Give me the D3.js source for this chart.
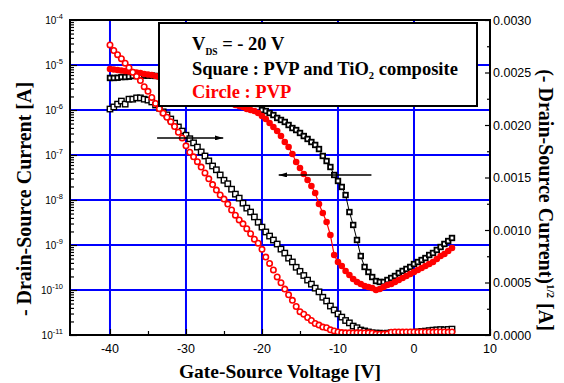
<!DOCTYPE html>
<html><head><meta charset="utf-8">
<script src="https://cdn.jsdelivr.net/npm/d3@7"></script>
<style>body{margin:0;background:#fff}svg{display:block}</style>
</head><body><svg id="c" width="564" height="383"></svg>
<script>
// ---------- data ----------
const gateVoltage = [-40,-39.5,-39,-38.5,-38,-37.5,-37,-36.5,-36,-35.5,-35,-34.5,-34,-33.5,-33,-32.5,-32,-31.5,-31,-30.5,
  -30,-29.5,-29,-28.5,-28,-27.5,-27,-26.5,-26,-25.5,-25,-24.5,-24,-23.5,-23,-22.5,-22,-21.5,-21,-20.5,
  -20,-19.5,-19,-18.5,-18,-17.5,-17,-16.5,-16,-15.5,-15,-14.5,-14,-13.5,-13,-12.5,-12,-11.5,-11,-10.5,
  -10,-9.5,-9,-8.5,-8,-7.5,-7,-6.5,-6,-5.5,-5,-4.5,-4,-3.5,-3,-2.5,-2,-1.5,-1,-0.5,
  0,0.5,1,1.5,2,2.5,3,3.5,4,4.5,5];

// Square : PVP and TiO2 composite, -I_DS (left log axis)
const squareLogCurrent = [1.05e-6,1.17e-6,1.35e-6,1.58e-6,1.35e-6,1.74e-6,1.74e-6,1.86e-6,1.86e-6,1.74e-6,
  1.66e-6,1.51e-6,1.29e-6,1.1e-6,9.1e-7,7.8e-7,6.3e-7,5.1e-7,4.2e-7,3.4e-7,
  2.75e-7,2.3e-7,1.86e-7,1.5e-7,1.17e-7,9.5e-8,7.4e-8,5.7e-8,4.7e-8,3.6e-8,
  2.75e-8,2.3e-8,1.74e-8,1.35e-8,1.1e-8,8.5e-9,6.6e-9,5.4e-9,4.2e-9,3.2e-9,
  2.5e-9,1.95e-9,1.58e-9,1.29e-9,1.05e-9,8.1e-10,6.6e-10,5.1e-10,4.2e-10,3.2e-10,
  2.6e-10,2.1e-10,1.66e-10,1.35e-10,1.1e-10,9.1e-11,6.9e-11,5.7e-11,4.4e-11,3.6e-11,
  2.95e-11,2.5e-11,2.1e-11,1.86e-11,1.58e-11,1.45e-11,1.29e-11,1.23e-11,1.17e-11,
  1.12e-11,1.1e-11,1.1e-11,1.08e-11,1.1e-11,1.12e-11,1.12e-11,1.1e-11,1.12e-11,1.14e-11,1.12e-11,
  1.15e-11,1.17e-11,1.2e-11,1.22e-11,1.25e-11,1.28e-11,1.3e-11,1.32e-11,1.3e-11,1.33e-11,1.35e-11];

// Circle : PVP, -I_DS (left log axis)
const circleLogCurrent = [2.8e-5,2.1e-5,1.7e-5,1.38e-5,1.1e-5,8.7e-6,6.9e-6,5.6e-6,4.5e-6,3.3e-6,
  2.6e-6,1.9e-6,1.4e-6,1.07e-6,8.5e-7,6.9e-7,5.5e-7,4.3e-7,3.2e-7,2.4e-7,
  1.6e-7,1.15e-7,9.1e-8,7.1e-8,5.4e-8,4.0e-8,2.95e-8,2.2e-8,1.66e-8,1.29e-8,
  1.05e-8,8.1e-9,6.0e-9,4.6e-9,3.6e-9,2.95e-9,2.3e-9,1.78e-9,1.35e-9,1.1e-9,
  8.0e-10,5.4e-10,3.9e-10,2.8e-10,1.95e-10,1.45e-10,1.05e-10,7.8e-11,5.9e-11,4.3e-11,
  3.3e-11,2.9e-11,2.45e-11,2.1e-11,1.8e-11,1.66e-11,1.5e-11,1.45e-11,1.3e-11,1.23e-11,
  1.17e-11,1.13e-11,1.12e-11,1.12e-11,1.11e-11,1.12e-11,1.12e-11,1.11e-11,1.12e-11,1.1e-11,
  1.05e-11,1.04e-11,1.05e-11,1.06e-11,1.15e-11,1.17e-11,1.17e-11,1.16e-11,1.17e-11,1.17e-11,
  1.17e-11,1.16e-11,1.17e-11,1.17e-11,1.17e-11,1.16e-11,1.17e-11,1.17e-11,1.17e-11,1.16e-11,1.17e-11];

// Square : (-I_DS)^1/2 (right linear axis)
const squareSqrtCurrent = [0.002448,0.002448,0.00245,0.002457,0.002457,0.00246,0.002467,0.002467,0.00247,0.00247,
  0.00247,0.00247,0.002467,0.002465,0.00246,0.00245,0.00244,0.00243,0.00242,0.00241,
  0.0024,0.00239,0.00238,0.00237,0.00236,0.00235,0.00234,0.00233,0.00232,0.00231,
  0.0023,0.00229,0.00228,0.00227,0.00226,0.00225,0.00224,0.00223,0.00222,0.00220,
  0.002143,0.002133,0.002114,0.002095,0.002067,0.002048,0.002029,0.002,0.001971,0.001952,
  0.001924,0.001895,0.001867,0.001838,0.00181,0.001771,0.001705,0.001657,0.0016,0.001524,
  0.001467,0.00141,0.001333,0.001171,0.001048,0.000905,0.000752,0.000648,0.0006,0.000552,
  0.000514,0.000505,0.000505,0.000524,0.000543,0.000562,0.00059,0.00061,0.000629,0.000648,
  0.000676,0.000695,0.000714,0.000733,0.000762,0.000781,0.00081,0.000838,0.000867,0.000895,0.000924];

// Circle : (-I_DS)^1/2 (right linear axis)
const circleSqrtCurrent = [0.002533,0.002529,0.002524,0.002519,0.002514,0.00251,0.002505,0.0025,0.002495,0.002486,
  0.002481,0.002476,0.002467,0.002457,0.00245,0.00244,0.00243,0.00242,0.00241,0.0024,
  0.00239,0.00238,0.00236,0.00235,0.00234,0.00232,0.00231,0.00229,0.00228,0.00226,
  0.00225,0.00223,0.00221,0.00219,0.00218,0.002171,0.002152,0.002143,0.002133,0.002114,
  0.002086,0.002057,0.002019,0.001981,0.001943,0.001895,0.001838,0.00179,0.001724,0.001648,
  0.00159,0.001533,0.001476,0.001419,0.001352,0.001248,0.001162,0.001076,0.000952,0.000762,
  0.000695,0.000657,0.00061,0.000571,0.000533,0.000505,0.000486,0.000467,0.000457,0.000448,
  0.000429,0.000438,0.000457,0.000476,0.000486,0.000505,0.000524,0.000543,0.000562,0.000581,
  0.0006,0.000619,0.000638,0.000657,0.000676,0.000695,0.000724,0.000752,0.000771,0.0008,0.000829];

// axes
const xTickValues = [-40,-30,-20,-10,0,10];
const xTickLabels = ["-40","-30","-20","-10","0","10"];
const xMinorTicks = [-35,-25,-15,-5,5];
const xGrid = [-40,-30,-20,-10,0];
const leftTickExponents = [-11,-10,-9,-8,-7,-6,-5,-4];
const leftGrid = [1e-10,1e-9,1e-8,1e-7,1e-6,1e-5];
const rightTickValues = [0,0.0005,0.001,0.0015,0.002,0.0025,0.003];
const rightTickLabels = ["0.0000","0.0005","0.0010","0.0015","0.0020","0.0025","0.0030"];
const rightMinorTicks = [0.00025,0.00075,0.00125,0.00175,0.00225,0.00275];

// sweep-direction arrows
const arrowForward = {fromV:-33.8, toV:-25.1, current:2.4e-7};     // left axis
const arrowReverse = {fromV:-5.6, toV:-17.8, sqrtCurrent:0.001524}; // right axis

// ---------- drawing ----------
const svg = d3.select("#c");
const L=70, R=490, T=20, B=335;
const x = d3.scaleLinear().domain([-45.26,10]).range([L,R]);
const yL = d3.scaleLog().domain([1e-11,1e-4]).range([B,T]);
const yR = d3.scaleLinear().domain([0,0.003]).range([B,T]);
const SANS = "'Liberation Sans', Arial, sans-serif";
const SERIF = "'Liberation Serif', 'Times New Roman', serif";

const defs = svg.append("defs");
defs.append("clipPath").attr("id","clip").append("rect").attr("x",L).attr("y",T).attr("width",R-L).attr("height",B-T);
defs.append("marker").attr("id","ah").attr("viewBox","0 0 10 6").attr("refX",10).attr("refY",3)
  .attr("markerWidth",9).attr("markerHeight",5).attr("markerUnits","userSpaceOnUse").attr("orient","auto")
  .append("path").attr("d","M0,0L10,3L0,6Z").attr("fill","#000");

// grid
svg.append("g").selectAll("line").data(xGrid).join("line")
  .attr("x1",d=>x(d)).attr("x2",d=>x(d)).attr("y1",T).attr("y2",B)
  .attr("stroke","#0000ff").attr("stroke-width",2);
svg.append("g").selectAll("line").data(leftGrid).join("line")
  .attr("x1",L).attr("x2",R).attr("y1",d=>yL(d)).attr("y2",d=>yL(d))
  .attr("stroke","#0000ff").attr("stroke-width",2);

// ticks
const minorLog = [];
leftTickExponents.slice(0,-1).forEach(e=>{ for(let m=2;m<=9;m++) minorLog.push(m*Math.pow(10,e)); });
const strip = g=>{g.select(".domain").remove(); g.selectAll(".tick line").attr("stroke","#000").attr("stroke-width",1.2);};
svg.append("g").attr("transform",`translate(${L},0)`)
  .call(d3.axisLeft(yL).tickValues(minorLog).tickSize(-4).tickFormat("")).call(strip);
svg.append("g").attr("transform",`translate(${L},0)`)
  .call(d3.axisLeft(yL).tickValues(leftTickExponents.map(e=>Math.pow(10,e))).tickSize(-7).tickFormat("")).call(strip);
svg.append("g").attr("transform",`translate(0,${B})`)
  .call(d3.axisBottom(x).tickValues(xTickValues).tickSize(-6).tickFormat("")).call(strip);
svg.append("g").attr("transform",`translate(0,${B})`)
  .call(d3.axisBottom(x).tickValues(xMinorTicks).tickSize(-4).tickFormat("")).call(strip);
svg.append("g").attr("transform",`translate(${R},0)`)
  .call(d3.axisRight(yR).tickValues(rightTickValues).tickSize(-5).tickFormat("")).call(strip);
svg.append("g").attr("transform",`translate(${R},0)`)
  .call(d3.axisRight(yR).tickValues(rightMinorTicks).tickSize(-3).tickFormat("")).call(strip);

// data
const pts = vals => gateVoltage.map((v,i)=>({v, c: vals[i]}));
const dg = svg.append("g").attr("clip-path","url(#clip)");

// black sqrt
dg.append("path").datum(pts(squareSqrtCurrent))
  .attr("d", d3.line().x(d=>x(d.v)).y(d=>yR(d.c)))
  .attr("fill","none").attr("stroke","#000").attr("stroke-width",1);
dg.append("g").selectAll("rect").data(pts(squareSqrtCurrent)).join("rect")
  .attr("x",d=>x(d.v)-2.3).attr("y",d=>yR(d.c)-2.3).attr("width",4.6).attr("height",4.6)
  .attr("fill","#fff").attr("stroke","#000").attr("stroke-width",1.8);

// black log
dg.append("g").selectAll("rect").data(pts(squareLogCurrent)).join("rect")
  .attr("x",d=>x(d.v)-2.7).attr("y",d=>yL(d.c)-2.7).attr("width",5.4).attr("height",5.4)
  .attr("fill","#fff").attr("stroke","#000").attr("stroke-width",1.4);

// red sqrt
dg.append("path").datum(pts(circleSqrtCurrent))
  .attr("d", d3.line().x(d=>x(d.v)).y(d=>yR(d.c)))
  .attr("fill","none").attr("stroke","#ff0000").attr("stroke-width",1.2);
dg.append("g").selectAll("circle").data(pts(circleSqrtCurrent)).join("circle")
  .attr("cx",d=>x(d.v)).attr("cy",d=>yR(d.c)).attr("r",3.3).attr("fill","#ff0000");

// red log
dg.append("g").selectAll("circle").data(pts(circleLogCurrent)).join("circle")
  .attr("cx",d=>x(d.v)).attr("cy",d=>yL(d.c)).attr("r",2.7)
  .attr("fill","#fff").attr("stroke","#ff0000").attr("stroke-width",1.6);

// arrows
svg.append("line").attr("x1",x(arrowForward.fromV)).attr("x2",x(arrowForward.toV))
  .attr("y1",yL(arrowForward.current)).attr("y2",yL(arrowForward.current))
  .attr("stroke","#000").attr("stroke-width",1.5).attr("marker-end","url(#ah)");
svg.append("line").attr("x1",x(arrowReverse.fromV)).attr("x2",x(arrowReverse.toV))
  .attr("y1",yR(arrowReverse.sqrtCurrent)).attr("y2",yR(arrowReverse.sqrtCurrent))
  .attr("stroke","#000").attr("stroke-width",1.5).attr("marker-end","url(#ah)");

// frame
svg.append("rect").attr("x",L).attr("y",T).attr("width",R-L).attr("height",B-T)
  .attr("fill","none").attr("stroke","#000").attr("stroke-width",2);

// tick labels
svg.append("g").selectAll("text").data(xTickValues).join("text")
  .attr("x",d=>x(d)).attr("y",353).attr("text-anchor","middle")
  .attr("font-family",SANS).attr("font-size",12.5).text((d,i)=>xTickLabels[i]);
const lt = svg.append("g").selectAll("text").data(leftTickExponents).join("text")
  .attr("x",63).attr("y",d=>yL(Math.pow(10,d))+4).attr("text-anchor","end")
  .attr("font-family",SANS).attr("font-size",10);
lt.append("tspan").text("10");
lt.append("tspan").attr("dy",-5).attr("font-size",7.5).text(d=>String(d));
svg.append("g").selectAll("text").data(rightTickValues).join("text")
  .attr("x",493).attr("y",d=>yR(d)+4.5).attr("text-anchor","start")
  .attr("font-family",SANS).attr("font-size",12.5).text((d,i)=>rightTickLabels[i]);

// axis titles
svg.append("text").attr("x",280).attr("y",378).attr("text-anchor","middle")
  .attr("font-family",SERIF).attr("font-weight","bold").attr("font-size",19.5)
  .text("Gate-Source Voltage [V]");
svg.append("text").attr("transform","translate(31,199) rotate(-90)").attr("text-anchor","middle")
  .attr("font-family",SERIF).attr("font-weight","bold").attr("font-size",20)
  .text("- Drain-Source Current [A]");
const rt = svg.append("text").attr("transform","translate(539,200) rotate(90)").attr("text-anchor","middle")
  .attr("font-family",SERIF).attr("font-weight","bold").attr("font-size",20);
rt.append("tspan").text("(- Drain-Source Current)");
rt.append("tspan").attr("dy",-8).attr("font-size",11).text("1/2");
rt.append("tspan").attr("dy",8).text(" [A]");

// legend box
svg.append("rect").attr("x",159).attr("y",23).attr("width",318).attr("height",83)
  .attr("fill","#fff").attr("stroke","#000").attr("stroke-width",2);
const LF = 18.5;
const l1 = svg.append("text").attr("x",192).attr("y",50).attr("font-family",SERIF).attr("font-weight","bold").attr("font-size",LF);
l1.append("tspan").text("V");
l1.append("tspan").attr("dy",5).attr("font-size",9.5).text("DS");
l1.append("tspan").attr("dy",-5).text(" = - 20 V");
const l2 = svg.append("text").attr("x",192).attr("y",75).attr("font-family",SERIF).attr("font-weight","bold").attr("font-size",LF);
l2.append("tspan").text("Square : PVP and TiO");
l2.append("tspan").attr("dy",4).attr("font-size",10.5).text("2");
l2.append("tspan").attr("dy",-4).text(" composite");
svg.append("text").attr("x",192).attr("y",98).attr("font-family",SERIF).attr("font-weight","bold").attr("font-size",LF)
  .attr("fill","#ff0000").text("Circle : PVP");
</script></body></html>
